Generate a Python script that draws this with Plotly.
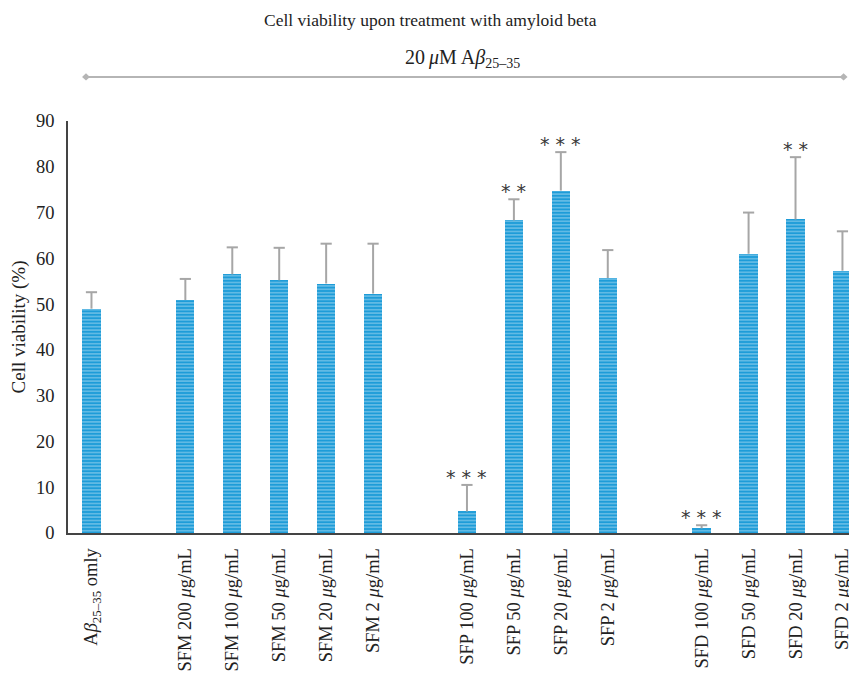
import plotly.graph_objects as go

# ---- data ----
groups = [
    ["A<i>β</i><sub>25–35</sub> omly"],
    ["SFM 200 <i>μ</i>g/mL", "SFM 100 <i>μ</i>g/mL", "SFM 50 <i>μ</i>g/mL", "SFM 20 <i>μ</i>g/mL", "SFM 2 <i>μ</i>g/mL"],
    ["SFP 100 <i>μ</i>g/mL", "SFP 50 <i>μ</i>g/mL", "SFP 20 <i>μ</i>g/mL", "SFP 2 <i>μ</i>g/mL"],
    ["SFD 100 <i>μ</i>g/mL", "SFD 50 <i>μ</i>g/mL", "SFD 20 <i>μ</i>g/mL", "SFD 2 <i>μ</i>g/mL"],
]
viability = [49.0,
             50.9, 56.5, 55.2, 54.5, 52.3,
             4.7, 68.3, 74.8, 55.7,
             1.0, 61.0, 68.5, 57.3]
error_up = [3.6,
            4.6, 5.9, 7.1, 8.7, 10.9,
            5.8, 4.6, 8.4, 6.1,
            0.7, 9.0, 13.6, 8.6]
significance = ["",
                "", "", "", "", "",
                "* * *", "* *", "* * *", "",
                "* * *", "", "* *", ""]

# ---- positions: one empty slot between groups ----
labels, xpos = [], []
pos = -2
for g in groups:
    pos += 1
    for lab in g:
        pos += 1
        labels.append(lab)
        xpos.append(pos)

BLUE = "#1e9cd8"
GREY = "#a6a6a6"
FONT = "Liberation Serif"

fig = go.Figure()
fig.add_trace(go.Bar(
    x=xpos, y=viability, width=0.39,
    marker=dict(color=BLUE, line=dict(width=0),
                pattern=dict(shape="-", fgcolor="white",
                             size=3.4, solidity=0.3, fillmode="overlay")),
    showlegend=False, hoverinfo="skip",
))

# whiskers (upper only) and caps
wx, wy = [], []
for x, v, e in zip(xpos, viability, error_up):
    wx += [x, x, None]
    wy += [v, v + e, None]
fig.add_trace(go.Scatter(x=wx, y=wy, mode="lines",
                         line=dict(color=GREY, width=2), showlegend=False,
                         hoverinfo="skip"))
fig.add_trace(go.Scatter(x=xpos, y=[v + e for v, e in zip(viability, error_up)],
                         mode="markers",
                         marker=dict(symbol="line-ew", size=8,
                                     line=dict(color=GREY, width=2)),
                         showlegend=False, hoverinfo="skip"))

for x, v, e, s in zip(xpos, viability, error_up, significance):
    if s:
        fig.add_annotation(x=x, y=v + e, text=s, showarrow=False,
                           yanchor="bottom", yshift=-5,
                           font=dict(family="DejaVu Sans", size=19, color="#3a3a3a"))

# header
fig.add_annotation(xref="paper", yref="paper", x=0.459, y=1.245,
                   text="Cell viability upon treatment with amyloid beta",
                   showarrow=False, yanchor="middle",
                   font=dict(family=FONT, size=17.5, color="#222222"))
fig.add_annotation(xref="paper", yref="paper", x=0.50, y=1.151,
                   text="20\u2009<i>μ</i>M A<i>β</i><sub>25–35</sub>",
                   showarrow=False, yanchor="middle",
                   font=dict(family=FONT, size=20, color="#222222"))

x0p, x1p, yp = 0.0228, 0.983, 1.107
fig.add_shape(type="line", xref="paper", yref="paper", x0=x0p, x1=x1p, y0=yp, y1=yp,
              line=dict(color="#b5b5b5", width=2))
dx, dy = 0.005, 0.009
for xc in (x0p, x1p):
    fig.add_shape(type="path", xref="paper", yref="paper",
                  path=f"M {xc-dx},{yp} L {xc},{yp+dy} L {xc+dx},{yp} L {xc},{yp-dy} Z",
                  fillcolor="#b5b5b5", line=dict(width=0))

# page body adds an 8px offset; figure is sized to fill the window from there
fig.update_layout(
    width=849, height=674,
    margin=dict(l=60, r=0, t=113, b=149),
    plot_bgcolor="white", paper_bgcolor="white",
    font=dict(family=FONT, size=18, color="#222222"),
    bargap=0,
)
fig.update_xaxes(range=[-0.5, 16.31], tickmode="array", tickvals=xpos, ticktext=labels,
                 tickangle=-90, showline=True, linecolor="#444444", linewidth=1.5,
                 showgrid=False, zeroline=False, ticks="", ticklabelstandoff=6,
                 automargin=False,
                 tickfont=dict(family=FONT, size=18.5, color="#222222"))
fig.update_yaxes(range=[0, 90], dtick=10, showline=True, linecolor="#444444", linewidth=1.5,
                 showgrid=False, zeroline=False, ticks="", ticklabelstandoff=8,
                 automargin=False,
                 tickfont=dict(family=FONT, size=18.5, color="#222222"),
                 title=dict(text="Cell viability (%)", standoff=9,
                            font=dict(family=FONT, size=19, color="#222222")))

fig.write_html("out.html")
